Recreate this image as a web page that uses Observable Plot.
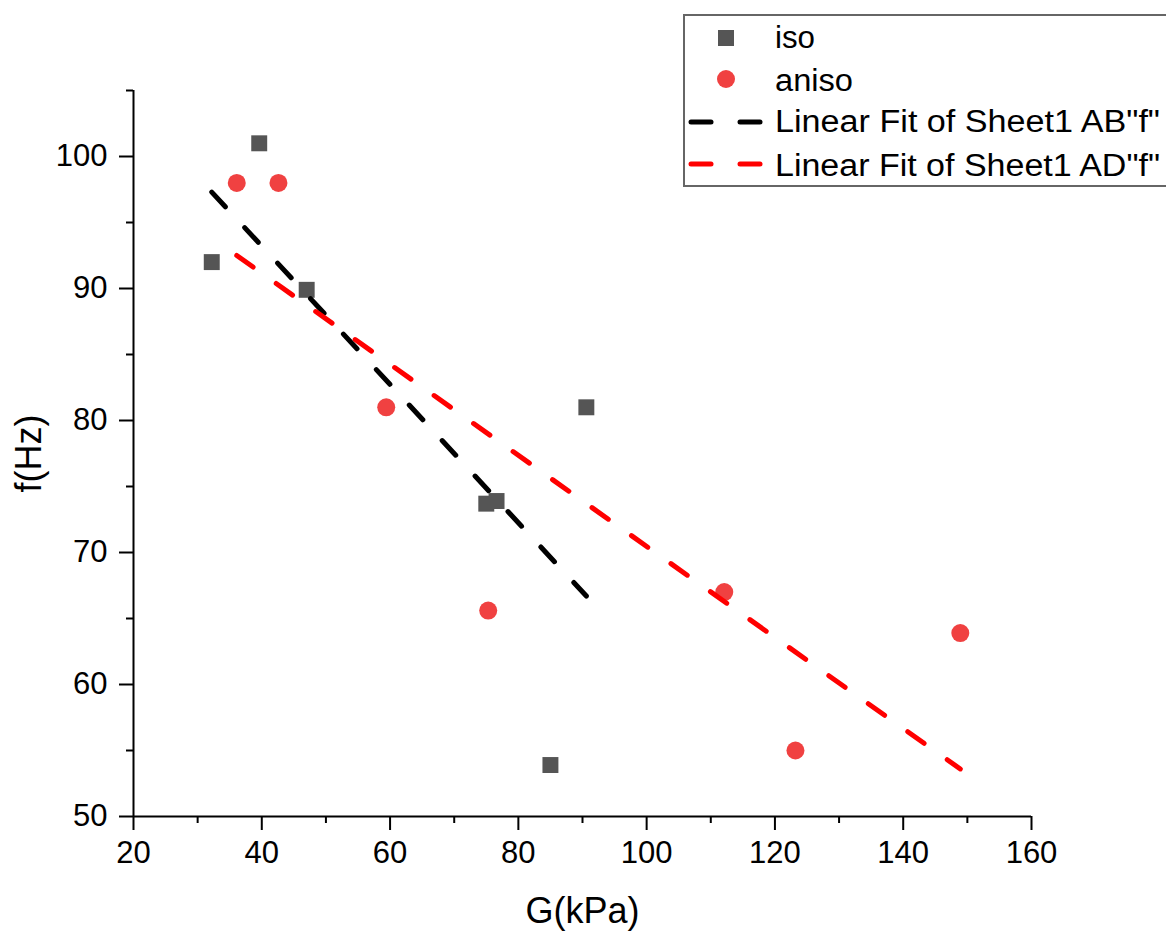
<!DOCTYPE html>
<html><head><meta charset="utf-8">
<script src="https://cdn.jsdelivr.net/npm/d3@7"></script>
<script src="https://cdn.jsdelivr.net/npm/@observablehq/plot@0.6"></script>
<style>
body{margin:0;background:#fff;overflow:hidden;}
#wrap{position:relative;width:1166px;height:931px;overflow:hidden;}
#legend{position:absolute;left:683px;top:14px;}
</style></head><body><div id="wrap"></div>
<script>
// Data
const isoG = [32.2, 39.6, 47.0, 75.0, 76.6, 85.0, 90.6];
const isoF = [92.0, 101.0, 89.9, 73.7, 73.9, 53.9, 81.0];
const anisoG = [36.1, 42.6, 59.4, 75.3, 112.1, 123.2, 148.9];
const anisoF = [98.0, 98.0, 81.0, 65.6, 67.0, 55.0, 63.9];
// Linear fit endpoints (as drawn)
const fitIsoG = [32.2, 90.6];
const fitIsoF = [97.3, 66.7];
const fitAnisoG = [36.1, 148.9];
const fitAnisoF = [92.5, 53.6];
// Ticks
const xMajor = [20, 40, 60, 80, 100, 120, 140, 160];
const xMinor = [30, 50, 70, 90, 110, 130, 150];
const yMajor = [50, 60, 70, 80, 90, 100];
const yMinor = [55, 65, 75, 85, 95, 105];
const legendLabels = ["iso", "aniso", "Linear Fit of Sheet1 AB\"f\"", "Linear Fit of Sheet1 AD\"f\""];

const iso = isoG.map((g, i) => ({G: g, f: isoF[i]}));
const aniso = anisoG.map((g, i) => ({G: g, f: anisoF[i]}));
const fitIso = fitIsoG.map((g, i) => ({G: g, f: fitIsoF[i]}));
const fitAniso = fitAnisoG.map((g, i) => ({G: g, f: fitAnisoF[i]}));

const FONT = "'Liberation Sans', Arial, sans-serif";
const chart = Plot.plot({
  width: 1166, height: 931,
  marginLeft: 133, marginRight: 135, marginTop: 90, marginBottom: 115,
  style: {fontFamily: FONT, fontSize: "31px", color: "#000", background: "#fff"},
  x: {domain: [20, 160]},
  y: {domain: [50, 105]},
  marks: [
    Plot.axisX(xMajor, {tickSize: 14, tickPadding: 10, strokeWidth: 2, label: null, fontSize: 31}),
    Plot.axisX(xMinor, {tickSize: 7, strokeWidth: 2, tickFormat: () => "", label: null}),
    Plot.axisY(yMajor, {tickSize: 14, tickPadding: 12, strokeWidth: 2, label: null, fontSize: 31}),
    Plot.axisY(yMinor, {tickSize: 7, strokeWidth: 2, tickFormat: () => "", label: null}),
    Plot.ruleX([20], {strokeWidth: 2}),
    Plot.ruleY([50], {strokeWidth: 2}),
    Plot.dot(iso, {x: "G", y: "f", symbol: "square", r: 9, fill: "#555555", stroke: null}),
    Plot.dot(aniso, {x: "G", y: "f", symbol: "circle", r: 9, fill: "#f04141", stroke: null}),
    Plot.line(fitIso, {x: "G", y: "f", stroke: "#000", strokeWidth: 5, strokeDasharray: "20,28.4", strokeLinecap: "round"}),
    Plot.line(fitAniso, {x: "G", y: "f", stroke: "#ff0000", strokeWidth: 5, strokeDasharray: "20,28.4", strokeLinecap: "round"}),
    Plot.text(["G(kPa)"], {text: d => d, frameAnchor: "bottom", textAnchor: "middle", lineAnchor: "middle", dy: 95, fontSize: 36}),
    Plot.text(["f(Hz)"], {text: d => d, frameAnchor: "left", textAnchor: "middle", lineAnchor: "middle", dx: -104, rotate: -90, fontSize: 36})
  ]
});
const wrap = document.getElementById("wrap");
wrap.appendChild(chart);

// Legend
const ns = "http://www.w3.org/2000/svg";
const lg = document.createElementNS(ns, "svg");
lg.setAttribute("id", "legend");
lg.setAttribute("width", 500);
lg.setAttribute("height", 176);
lg.style.fontFamily = FONT;
function el(tag, attrs, parent) {
  const e = document.createElementNS(ns, tag);
  for (const k in attrs) e.setAttribute(k, attrs[k]);
  (parent || lg).appendChild(e);
  return e;
}
el("rect", {x: 1, y: 1, width: 520, height: 171, fill: "#fff", stroke: "#666", "stroke-width": 2});
el("rect", {x: 35, y: 16, width: 16, height: 16, fill: "#555555"});
el("circle", {cx: 43, cy: 65, r: 9, fill: "#f04141"});
const lineRows = [{y: 108, c: "#000"}, {y: 150, c: "#ff0000"}];
for (const r of lineRows) {
  el("line", {x1: 8, x2: 28, y1: r.y, y2: r.y, stroke: r.c, "stroke-width": 5, "stroke-linecap": "round"});
  el("line", {x1: 57, x2: 77, y1: r.y, y2: r.y, stroke: r.c, "stroke-width": 5, "stroke-linecap": "round"});
}
const textRows = [{y: 34, w: 40}, {y: 77, w: 78}, {y: 118, w: 385}, {y: 162, w: 385}];
legendLabels.forEach((t, i) => {
  const tx = el("text", {x: 92, y: textRows[i].y, "font-size": 31, fill: "#000", textLength: textRows[i].w, lengthAdjust: "spacingAndGlyphs"});
  tx.textContent = t;
});
wrap.appendChild(lg);
</script>
</body></html>
